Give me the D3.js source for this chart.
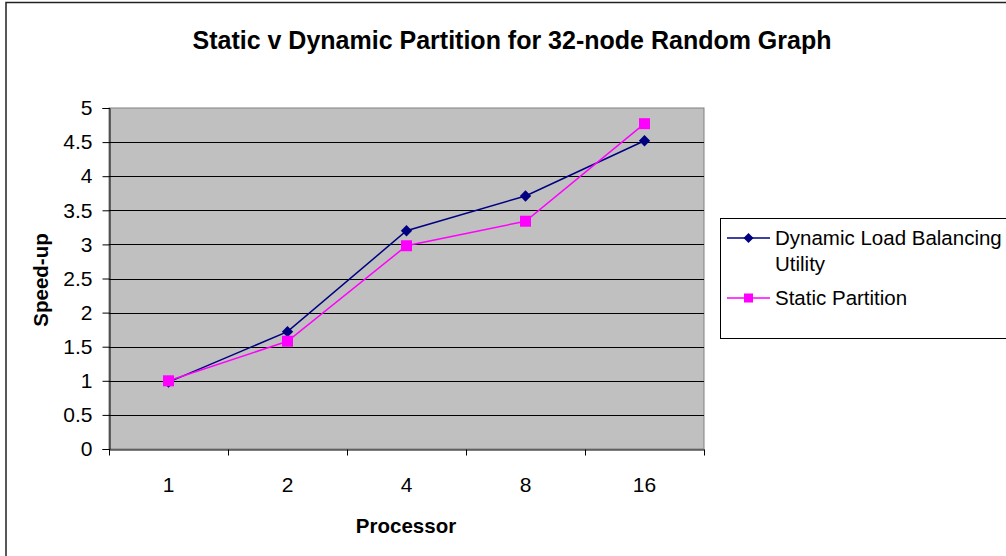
<!DOCTYPE html>
<html>
<head>
<meta charset="utf-8">
<script src="https://cdn.jsdelivr.net/npm/d3@7"></script>
<style>
body{margin:0;background:#fff;}
text{font-family:'Liberation Sans',Arial,sans-serif;}
</style>
</head>
<body>
<div class="canvas"></div>
<script>
// chart data
const processors=['1','2','4','8','16'];
const dynamicLB=[0.98,1.72,3.2,3.71,4.52];
const staticPart=[1.0,1.58,2.98,3.34,4.77];
const yTicks=[0,0.5,1,1.5,2,2.5,3,3.5,4,4.5,5];

const svg=d3.select('.canvas').append('svg')
  .attr('width',1006)
  .attr('height',556);

// outer chart border
svg.append('rect')
  .attr('x',6).attr('y',2.5)
  .attr('width',1100).attr('height',600)
  .attr('fill','#fff')
  .attr('stroke','#222')
  .attr('stroke-width',1.5);

const plot={left:109,top:108,right:704,bottom:449};

const x=d3.scaleBand().domain(processors).range([plot.left,plot.right]);
const y=d3.scaleLinear().domain([0,5]).range([plot.bottom,plot.top]);

// plot background
svg.append('rect')
  .attr('x',plot.left).attr('y',plot.top)
  .attr('width',plot.right-plot.left).attr('height',plot.bottom-plot.top)
  .attr('fill','#c0c0c0')
  .attr('stroke','#808080')
  .attr('stroke-width',1);

// gridlines
svg.append('g').selectAll('line')
  .data(yTicks.filter(d=>d>0 && d<5))
  .join('line')
  .attr('x1',plot.left).attr('x2',plot.right)
  .attr('y1',d=>Math.round(y(d))+0.5).attr('y2',d=>Math.round(y(d))+0.5)
  .attr('stroke','#000')
  .attr('stroke-width',1);

// y axis
const yAxis=svg.append('g')
  .attr('transform',`translate(${plot.left+0.5},0)`)
  .call(d3.axisLeft(y).tickValues(yTicks).tickSize(7).tickPadding(10).tickFormat(d3.format('')));
yAxis.select('.domain').attr('stroke','#000');
yAxis.selectAll('text').style('font-size','21px').attr('fill','#000');

// x axis
const xAxis=svg.append('g')
  .attr('transform',`translate(0,${plot.bottom+0.5})`)
  .call(d3.axisBottom(x).tickSize(0).tickPadding(28));
xAxis.select('.domain').attr('stroke','#000');
xAxis.selectAll('text').style('font-size','21px').attr('fill','#000');
// tick marks between categories
xAxis.selectAll('.sep')
  .data(processors.concat(['end']))
  .join('line')
  .attr('class','sep')
  .attr('x1',(d,i)=>Math.round(plot.left+i*x.bandwidth())+0.5)
  .attr('x2',(d,i)=>Math.round(plot.left+i*x.bandwidth())+0.5)
  .attr('y1',0).attr('y2',6)
  .attr('stroke','#000');

const cx=d=>x(d)+x.bandwidth()/2;
const line=d3.line().x((d,i)=>cx(processors[i])).y(d=>y(d));
const diamond=d3.symbol(d3.symbolSquare,64);

// dynamic series
svg.append('path')
  .datum(dynamicLB)
  .attr('d',line)
  .attr('fill','none')
  .attr('stroke','#000080')
  .attr('stroke-width',1.5);
svg.append('g').selectAll('path')
  .data(dynamicLB)
  .join('path')
  .attr('d',diamond)
  .attr('transform',(d,i)=>`translate(${cx(processors[i])},${y(d)}) rotate(45)`)
  .attr('fill','#000080');

// static series
svg.append('path')
  .datum(staticPart)
  .attr('d',line)
  .attr('fill','none')
  .attr('stroke','#ff00ff')
  .attr('stroke-width',1.5);
svg.append('g').selectAll('rect')
  .data(staticPart)
  .join('rect')
  .attr('x',(d,i)=>cx(processors[i])-5.5)
  .attr('y',d=>y(d)-5.5)
  .attr('width',11).attr('height',11)
  .attr('fill','#ff00ff');

// title
svg.append('text')
  .attr('x',512).attr('y',49)
  .attr('text-anchor','middle')
  .style('font-size','25px').style('font-weight','bold')
  .text('Static v Dynamic Partition for 32-node Random Graph');

// axis titles
svg.append('text')
  .attr('x',406).attr('y',533)
  .attr('text-anchor','middle')
  .style('font-size','20.5px').style('font-weight','bold')
  .text('Processor');
svg.append('text')
  .attr('transform','translate(48,280) rotate(-90)')
  .attr('text-anchor','middle')
  .style('font-size','20.5px').style('font-weight','bold')
  .text('Speed-up');

// legend
const legend=svg.append('g');
legend.append('rect')
  .attr('x',720.5).attr('y',218.5)
  .attr('width',400).attr('height',120)
  .attr('fill','#fff')
  .attr('stroke','#000')
  .attr('stroke-width',1);
legend.append('line')
  .attr('x1',727).attr('x2',770).attr('y1',238).attr('y2',238)
  .attr('stroke','#000080').attr('stroke-width',1.5);
legend.append('path')
  .attr('d',d3.symbol(d3.symbolSquare,50))
  .attr('transform','translate(748.5,238) rotate(45)')
  .attr('fill','#000080');
legend.append('text')
  .attr('x',775).attr('y',245)
  .style('font-size','20.5px')
  .text('Dynamic Load Balancing');
legend.append('text')
  .attr('x',775).attr('y',271)
  .style('font-size','20.5px')
  .text('Utility');
legend.append('line')
  .attr('x1',727).attr('x2',770).attr('y1',298).attr('y2',298)
  .attr('stroke','#ff00ff').attr('stroke-width',1.5);
legend.append('rect')
  .attr('x',744).attr('y',293.5)
  .attr('width',9).attr('height',9)
  .attr('fill','#ff00ff');
legend.append('text')
  .attr('x',775).attr('y',305)
  .style('font-size','20.5px')
  .text('Static Partition');
</script>
</body>
</html>
